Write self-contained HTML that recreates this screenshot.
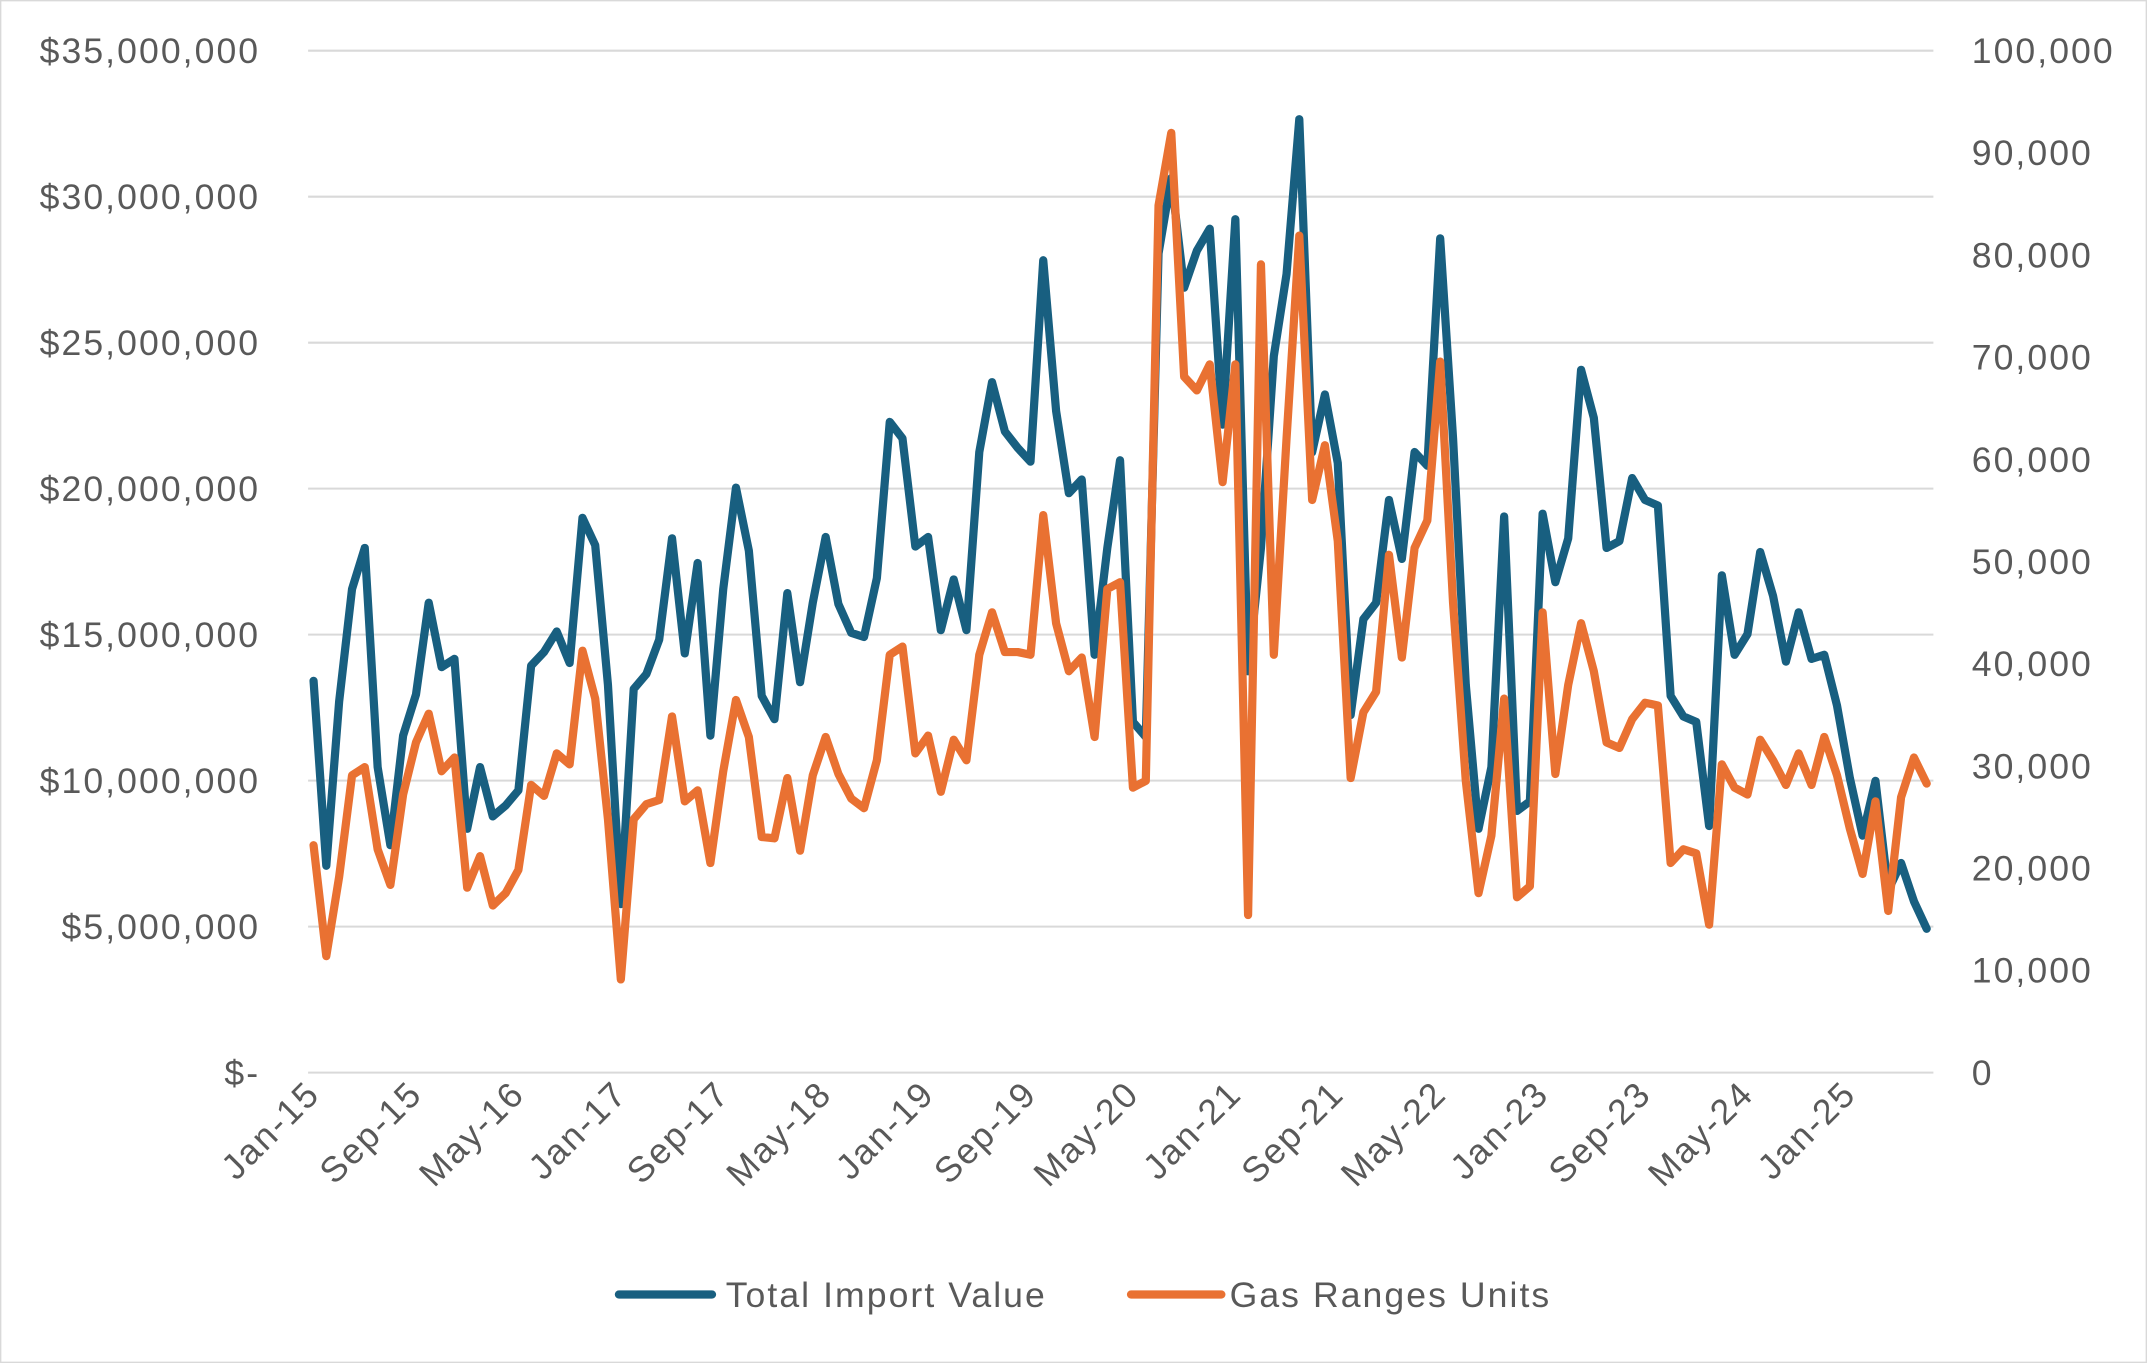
<!DOCTYPE html>
<html><head><meta charset="utf-8">
<style>
html,body{margin:0;padding:0;background:#fff;}
svg{display:block;}
text{font-family:"Liberation Sans",sans-serif;fill:#595959;letter-spacing:1.5px;}
</style></head>
<body>
<svg id="c" width="2147" height="1363" viewBox="0 0 1568 995" preserveAspectRatio="none" xmlns="http://www.w3.org/2000/svg">
<rect x="0.5" y="0.5" width="1567" height="994" fill="#fff" stroke="#d9d9d9" stroke-width="1"/>
<g id="grid" stroke="#d9d9d9" stroke-width="1.5"></g>
<g id="lbl" font-size="26"></g>
<polyline id="blue" fill="none" stroke="#185f80" stroke-width="6" stroke-linejoin="round" stroke-linecap="round"/>
<polyline id="orange" fill="none" stroke="#e97132" stroke-width="6" stroke-linejoin="round" stroke-linecap="round"/>
<line x1="452" y1="945" x2="520" y2="945" stroke="#185f80" stroke-width="6" stroke-linecap="round"/>
<text x="530" y="954" font-size="26">Total Import Value</text>
<line x1="826" y1="945" x2="892" y2="945" stroke="#e97132" stroke-width="6" stroke-linecap="round"/>
<text x="898" y="954" font-size="26">Gas Ranges Units</text>
</svg>
<script>
var NS="http://www.w3.org/2000/svg";
var g=document.getElementById('grid'),L=document.getElementById('lbl');
function el(p,t,a,txt){var e=document.createElementNS(NS,t);for(var k in a)e.setAttribute(k,a[k]);if(txt)e.textContent=txt;p.appendChild(e);return e;}
var left=["$-","$5,000,000","$10,000,000","$15,000,000","$20,000,000","$25,000,000","$30,000,000","$35,000,000"];
var right=["0","10,000","20,000","30,000","40,000","50,000","60,000","70,000","80,000","90,000","100,000"];
for(var i=0;i<8;i++){var y=783-i*106.57;el(g,'line',{x1:225,x2:1412,y1:y,y2:y});el(L,'text',{x:190,y:y+9,'text-anchor':'end'},left[i]);}
for(var i=0;i<11;i++){var y=783-i*74.6;el(L,'text',{x:1440,y:y+9},right[i]);}
var xl=["Jan-15","Sep-15","May-16","Jan-17","Sep-17","May-18","Jan-19","Sep-19","May-20","Jan-21","Sep-21","May-22","Jan-23","Sep-23","May-24","Jan-25"];
for(var i=0;i<xl.length;i++){var x=229+i*8*9.35;el(L,'text',{x:x+6,y:800,'text-anchor':'end',transform:'rotate(-45 '+(x+6)+' 800)'},xl[i]);}
var B=[497,632,512,430,400,560,617,537,507,440,487,481,605,560,596,588,577,486,476,461,484,378,398,500,660,503,492,467,393,477,411,537,430,356,402,508,525,433,498,440,392,441,462,465,422,308,320,399,392,460,423,460,330,279,315,327,337,190,300,360,350,478,400,336,527,538,185,130,210,183,167,310,160,490,400,260,200,87,330,288,338,522,452,440,365,408,330,340,174,320,500,605,560,377,592,585,375,425,393,270,305,400,395,349,365,369,508,523,527,603,420,478,463,403,435,483,447,481,478,515,568,610,570,650,630,658,678];
var O=[617,698,640,566,560,620,646,580,542,521,563,553,648,625,661,652,635,573,581,550,558,475,510,598,715,598,587,584,523,585,577,630,563,511,538,611,612,568,621,566,538,565,583,590,555,478,472,550,537,578,540,555,478,447,476,476,478,376,455,490,480,538,430,425,575,570,150,97,275,285,266,352,266,668,193,478,320,172,365,325,395,568,520,505,405,480,400,380,264,440,570,652,610,510,655,647,447,565,500,455,490,542,546,525,513,515,630,620,623,675,558,575,580,540,555,573,550,573,538,566,605,638,585,665,582,553,572];
function pts(a){return a.map(function(v,i){return (229+i*9.35).toFixed(1)+','+v;}).join(' ');}
document.getElementById('blue').setAttribute('points',pts(B));
document.getElementById('orange').setAttribute('points',pts(O));
</script>
</body></html>
